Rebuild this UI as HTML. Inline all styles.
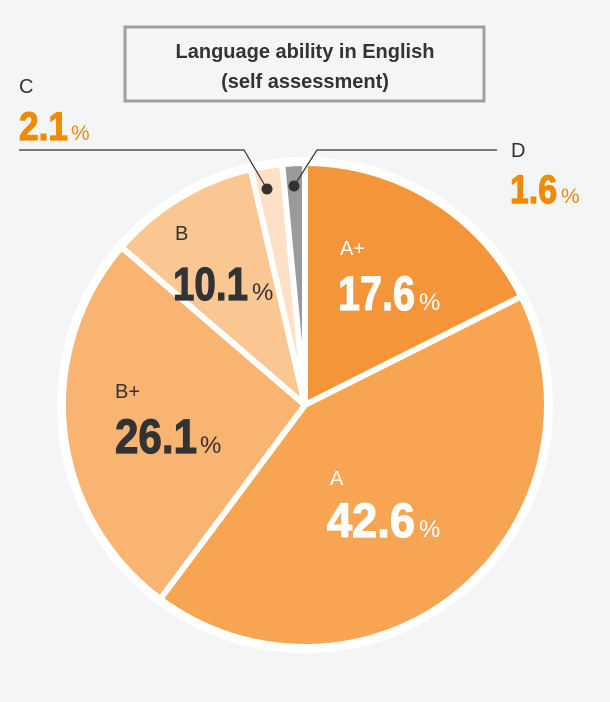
<!DOCTYPE html>
<html><head><meta charset="utf-8"><style>
html,body{margin:0;padding:0;background:#f4f5f7;}
svg{display:block}
</style></head><body>
<svg width="610" height="702" viewBox="0 0 610 702" xmlns="http://www.w3.org/2000/svg" font-family="'Liberation Sans', sans-serif">
<rect width="610" height="702" fill="#f4f5f7"/>
<rect x="125" y="27" width="359" height="74" fill="#f4f5f7" stroke="#a0a0a0" stroke-width="3"/>
<text x="305" y="58" text-anchor="middle" font-size="20" font-weight="bold" fill="#333">Language ability in English</text>
<text x="305" y="88" text-anchor="middle" font-size="20" font-weight="bold" fill="#333">(self assessment)</text>

<circle cx="305" cy="405" r="248" fill="#fff"/>
<g stroke="#fff" stroke-width="6" stroke-linejoin="round">
<path d="M305,405 L305,163 A242,242 0 0 1 521.3,296.5 Z" fill="#f5953a"/>
<path d="M305,405 L521.3,296.5 A242,242 0 0 1 160.3,599 Z" fill="#f7a552"/>
<path d="M305,405 L160.3,599 A242,242 0 0 1 121.5,247.2 Z" fill="#f8b470"/>
<path d="M305,405 L121.5,247.2 A242,242 0 0 1 250.7,169.2 Z" fill="#fac692"/>
<path d="M305,405 L250.7,169.2 A242,242 0 0 1 282.2,164.1 Z" fill="#fde0c6"/>
<path d="M305,405 L282.2,164.1 A242,242 0 0 1 305,163 Z" fill="#9a9a9a"/>
</g>

<polyline points="19,150 244,150 267,189" fill="none" stroke="#333" stroke-width="1.2"/>
<polyline points="497,150 317,150 294,186" fill="none" stroke="#333" stroke-width="1.2"/>
<circle cx="267" cy="189" r="5.5" fill="#333"/>
<circle cx="294" cy="186" r="5.5" fill="#333"/>

<g font-weight="bold" stroke-width="1.2">
<text x="338" y="310" font-size="48" fill="#fff" stroke="#fff" textLength="77" lengthAdjust="spacingAndGlyphs">17.6</text>
<text x="327" y="537" font-size="48" fill="#fff" stroke="#fff" textLength="88" lengthAdjust="spacingAndGlyphs">42.6</text>
<text x="115" y="453" font-size="48" fill="#333" stroke="#333" textLength="82" lengthAdjust="spacingAndGlyphs">26.1</text>
<text x="173" y="300" font-size="46" fill="#333" stroke="#333" textLength="75" lengthAdjust="spacingAndGlyphs">10.1</text>
<text x="19" y="140" font-size="40" fill="#f08a00" stroke="#f08a00" textLength="49" lengthAdjust="spacingAndGlyphs">2.1</text>
<text x="510" y="203" font-size="40" fill="#f08a00" stroke="#f08a00" textLength="47" lengthAdjust="spacingAndGlyphs">1.6</text>
</g>
<g font-size="24">
<text x="419" y="310" fill="#fff">%</text>
<text x="419" y="537" fill="#fff">%</text>
<text x="200" y="453" fill="#333">%</text>
<text x="252" y="300" fill="#333">%</text>
<text x="71" y="140" font-size="21" fill="#f08a00">%</text>
<text x="561" y="203" font-size="21" fill="#f08a00">%</text>
</g>
<g font-size="20">
<text x="340" y="255" fill="#fff">A+</text>
<text x="330" y="485" fill="#fff">A</text>
<text x="115" y="398" fill="#333">B+</text>
<text x="175" y="240" fill="#333">B</text>
<text x="19" y="93" fill="#333">C</text>
<text x="511" y="157" fill="#333">D</text>
</g>
</svg>
</body></html>
